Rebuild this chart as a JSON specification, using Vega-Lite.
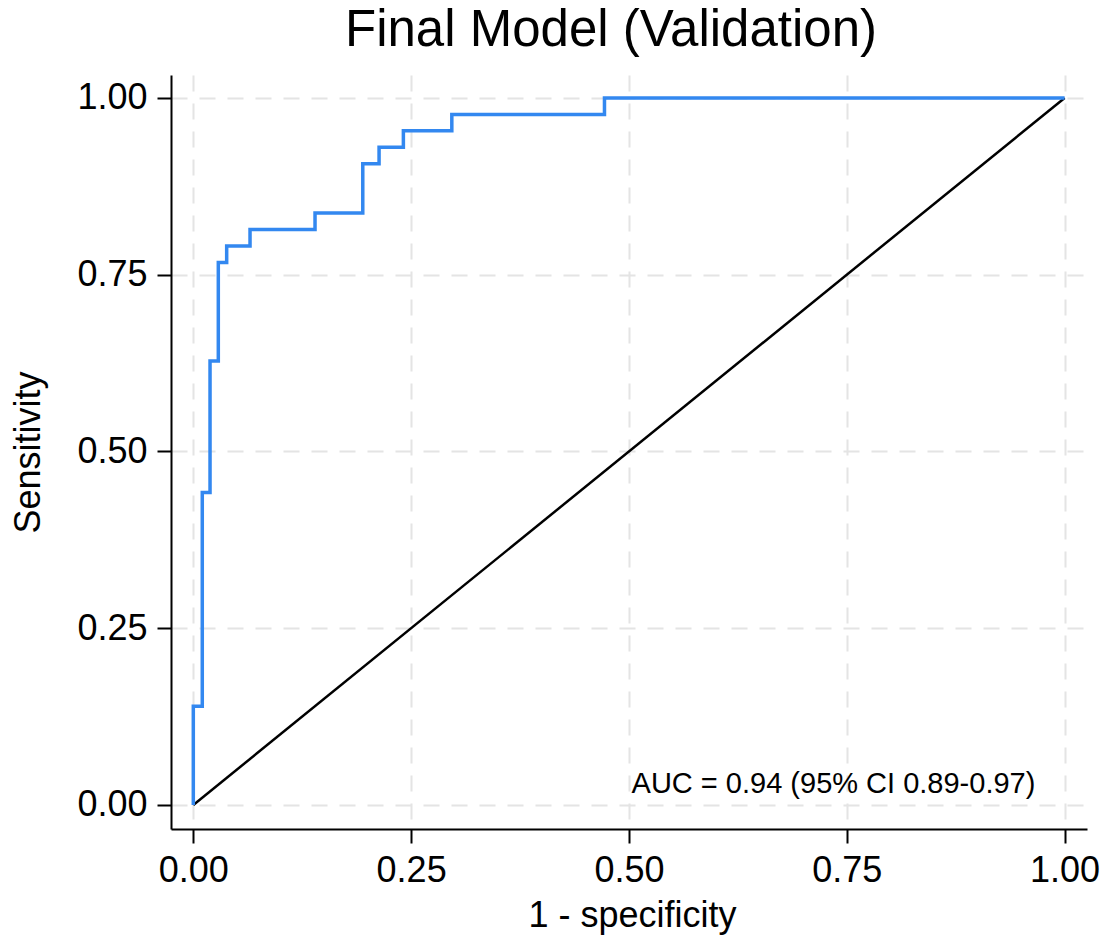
{
  "$schema": "https://vega.github.io/schema/vega-lite/v6.json",
  "width": 916,
  "height": 754,
  "autosize": {"type": "none"},
  "padding": {"left": 171, "top": 75, "right": 23, "bottom": 111},
  "background": "white",
  "title": {
    "text": "Final Model (Validation)",
    "fontSize": 51,
    "font": "Liberation Sans",
    "fontWeight": "normal",
    "color": "black",
    "anchor": "middle",
    "offset": 18,
    "dx": -18
  },
  "config": {
    "view": {"stroke": null},
    "font": "Liberation Sans",
    "axis": {
      "domainColor": "black",
      "domainWidth": 2,
      "tickColor": "black",
      "tickWidth": 2,
      "tickSize": 14,
      "labelFontSize": 36,
      "labelColor": "black",
      "labelFont": "Liberation Sans",
      "titleFontSize": 36,
      "titleFontWeight": "normal",
      "titleColor": "black",
      "titleFont": "Liberation Sans",
      "grid": true,
      "gridColor": "#e4e4e4",
      "gridWidth": 2,
      "gridDash": [16, 12]
    }
  },
  "datasets": {
    "roc": [
      {"step": 1, "fpr": 0, "tpr": 0},
      {"step": 2, "fpr": 0, "tpr": 0.1395},
      {"step": 3, "fpr": 0.0103, "tpr": 0.1395},
      {"step": 4, "fpr": 0.0103, "tpr": 0.4419},
      {"step": 5, "fpr": 0.0192, "tpr": 0.4419},
      {"step": 6, "fpr": 0.0192, "tpr": 0.6279},
      {"step": 7, "fpr": 0.0287, "tpr": 0.6279},
      {"step": 8, "fpr": 0.0287, "tpr": 0.7674},
      {"step": 9, "fpr": 0.0383, "tpr": 0.7674},
      {"step": 10, "fpr": 0.0383, "tpr": 0.7907},
      {"step": 11, "fpr": 0.0651, "tpr": 0.7907},
      {"step": 12, "fpr": 0.0651, "tpr": 0.814},
      {"step": 13, "fpr": 0.1397, "tpr": 0.814},
      {"step": 14, "fpr": 0.1397, "tpr": 0.8372},
      {"step": 15, "fpr": 0.1945, "tpr": 0.8372},
      {"step": 16, "fpr": 0.1945, "tpr": 0.907},
      {"step": 17, "fpr": 0.2132, "tpr": 0.907},
      {"step": 18, "fpr": 0.2132, "tpr": 0.9302},
      {"step": 19, "fpr": 0.2411, "tpr": 0.9302},
      {"step": 20, "fpr": 0.2411, "tpr": 0.9535},
      {"step": 21, "fpr": 0.2967, "tpr": 0.9535},
      {"step": 22, "fpr": 0.2967, "tpr": 0.9767},
      {"step": 23, "fpr": 0.4719, "tpr": 0.9767},
      {"step": 24, "fpr": 0.4719, "tpr": 1},
      {"step": 25, "fpr": 1, "tpr": 1}
    ],
    "ref": [
      {"fpr": 0, "tpr": 0},
      {"fpr": 1, "tpr": 1}
    ]
  },
  "layer": [
    {
      "data": {"name": "ref"},
      "mark": {"type": "line", "color": "black", "strokeWidth": 2.5},
      "encoding": {
        "x": {
          "field": "fpr",
          "type": "quantitative",
          "scale": {"domain": [-0.0256, 1.0257], "nice": false, "zero": false},
          "axis": {
            "values": [0, 0.25, 0.5, 0.75, 1],
            "format": ".2f",
            "title": "1 - specificity",
            "labelPadding": 10,
            "titleX": 461,
            "titleY": 86,
            "titleBaseline": "middle",
            "titleAlign": "center"
          }
        },
        "y": {
          "field": "tpr",
          "type": "quantitative",
          "scale": {"domain": [-0.034, 1.0325], "nice": false, "zero": false},
          "axis": {
            "values": [0, 0.25, 0.5, 0.75, 1],
            "format": ".2f",
            "title": "Sensitivity",
            "labelPadding": 10,
            "titleX": -143,
            "titleY": 377,
            "titleAngle": -90,
            "titleBaseline": "middle",
            "titleAlign": "center"
          }
        }
      }
    },
    {
      "data": {"name": "roc"},
      "mark": {"type": "line", "color": "#3388f0", "strokeWidth": 3.5},
      "encoding": {
        "x": {"field": "fpr", "type": "quantitative"},
        "y": {"field": "tpr", "type": "quantitative"},
        "order": {"field": "step", "type": "quantitative"}
      }
    },
    {
      "data": {"values": [{"label": "AUC = 0.94 (95% CI 0.89-0.97)"}]},
      "mark": {"type": "text", "align": "left", "baseline": "middle", "fontSize": 29, "color": "black", "font": "Liberation Sans"},
      "encoding": {
        "x": {"datum": 0.503},
        "y": {"datum": 0.029},
        "text": {"field": "label"}
      }
    }
  ]
}
